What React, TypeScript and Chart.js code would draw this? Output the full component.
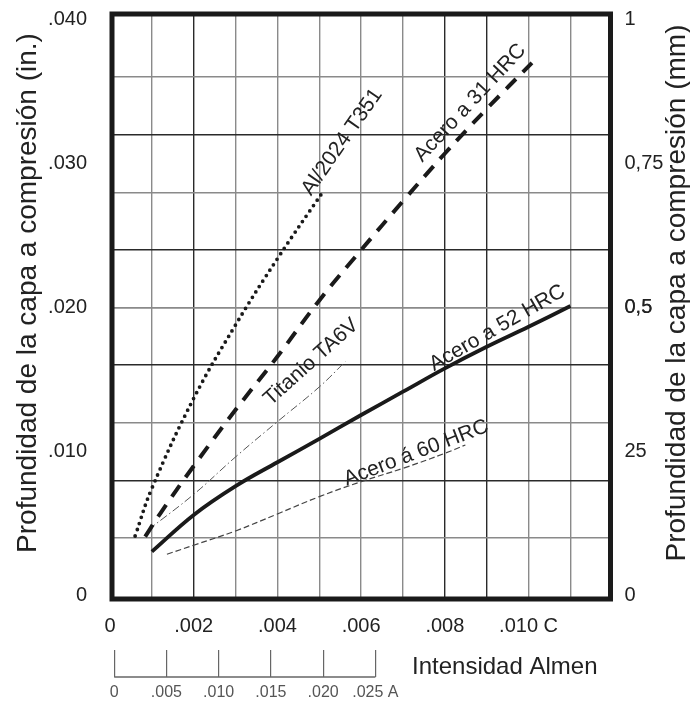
import { useEffect, useRef } from 'react';
import { Chart, registerables } from 'chart.js';

Chart.register(...registerables);

// ---- Data (Almen intensity C in inches, depth in inches) ----
const alX = [0.0006, 0.001, 0.002, 0.003, 0.004, 0.0051];
const alY = [0.00414, 0.00745, 0.0137, 0.0188, 0.0234, 0.0281];

const a31X = [0.00084, 0.0012, 0.002, 0.003, 0.004, 0.005, 0.006, 0.007, 0.008, 0.009, 0.01008];
const a31Y = [0.00409, 0.0057, 0.009, 0.0129, 0.0166, 0.0205, 0.024, 0.0274, 0.0307, 0.0338, 0.037];

const tiX = [0.00091, 0.002, 0.003, 0.004, 0.005, 0.00562];
const tiY = [0.00456, 0.00703, 0.00963, 0.01208, 0.01449, 0.01624];

const a52X = [0.001, 0.002, 0.003, 0.004, 0.005, 0.006, 0.007, 0.008, 0.009, 0.01, 0.011];
const a52Y = [0.00305, 0.0056, 0.0076, 0.00926, 0.01088, 0.01254, 0.01416, 0.01578, 0.01728, 0.01867, 0.02011];

const a60X = [0.00136, 0.002, 0.003, 0.004, 0.005, 0.006, 0.007, 0.008, 0.00849];
const a60Y = [0.00287, 0.0035, 0.00449, 0.00567, 0.00687, 0.00791, 0.00884, 0.00988, 0.01046];

// curve labels (text, anchor in data coords, rotation deg)
const curveLabels = ['Al/2024 T351', 'Acero a 31 HRC', 'Titanio TA6V', 'Acero a 52 HRC', 'Acero á 60 HRC'];
const curveLabelX = [0.005547, 0.008605, 0.004806, 0.00925, 0.007314];
const curveLabelY = [0.0315, 0.03421, 0.01622, 0.01858, 0.0099];
const curveLabelAngle = [-55, -47, -42, -30, -21];

// ---- Ticks ----
const cGridValues = [0, 0.001, 0.002, 0.003, 0.004, 0.005, 0.006, 0.007, 0.008, 0.009, 0.01, 0.011];
const cTickValues = [0, 0.002, 0.004, 0.006, 0.008, 0.01];
const cTickLabels = ['0', '.002', '.004', '.006', '.008', '.010 C'];

const aTickValues = [0, 0.005, 0.01, 0.015, 0.02, 0.025];
const aTickLabels = ['0', '.005', '.010', '.015', '.020', '.025 A'];

const inTickValues = [0, 0.01, 0.02, 0.03, 0.04];
const inTickLabels = ['0', '.010', '.020', '.030', '.040'];

const mmGridValues = [0.1, 0.2, 0.3, 0.4, 0.5, 0.6, 0.7, 0.8, 0.9];
const mmTickValues = [0, 0.25, 0.5, 0.75, 1];
const mmTickLabels = ['0', '25', '0,5', '0,75', '1'];

const yTitleLeft = 'Profundidad de la capa a compresión (in.)';
const yTitleRight = 'Profundidad de la capa a compresión (mm)';
const xTitle = 'Intensidad Almen';

const FONT = '"Liberation Sans", Arial, Helvetica, sans-serif';

const near = (a: number, b: number) => Math.abs(a - b) < 1e-9;
const labelFor = (vals: number[], labels: string[], v: number) => {
  const i = vals.findIndex((t) => near(t, v));
  return i >= 0 ? labels[i] : '';
};
const pts = (xs: number[], ys: number[]) => xs.map((x, i) => ({ x, y: ys[i] }));

const decorPlugin = {
  id: 'decor',
  beforeDatasetsDraw(chart: any) {
    const { ctx, chartArea: a } = chart;
    ctx.save();
    ctx.strokeStyle = '#1a1a1a';
    ctx.lineWidth = 5;
    ctx.strokeRect(a.left + 2, a.top, a.right - a.left - 2, a.bottom - a.top + 1);
    ctx.restore();
  },
  afterDatasetsDraw(chart: any) {
    const { ctx } = chart;
    const xs = chart.scales.x;
    const ys = chart.scales.y;
    ctx.save();
    ctx.font = `21px ${FONT}`;
    ctx.fillStyle = '#222';
    ctx.textAlign = 'center';
    ctx.textBaseline = 'middle';
    curveLabels.forEach((t, i) => {
      ctx.save();
      ctx.translate(xs.getPixelForValue(curveLabelX[i]), ys.getPixelForValue(curveLabelY[i]));
      ctx.rotate((curveLabelAngle[i] * Math.PI) / 180);
      ctx.fillText(t, 0, 0);
      ctx.restore();
    });
    ctx.restore();
  },
  afterDraw(chart: any) {
    const { ctx, chartArea: a } = chart;
    const sA = chart.scales.xA;
    ctx.save();
    // A-scale baseline
    const yb = sA.top + 27;
    ctx.strokeStyle = '#666';
    ctx.lineWidth = 1.3;
    ctx.beginPath();
    ctx.moveTo(sA.getPixelForValue(aTickValues[0]), yb);
    ctx.lineTo(sA.getPixelForValue(aTickValues[aTickValues.length - 1]), yb);
    ctx.stroke();
    // x title
    ctx.fillStyle = '#222';
    ctx.font = `24px ${FONT}`;
    ctx.textAlign = 'right';
    ctx.textBaseline = 'middle';
    ctx.fillText(xTitle, a.right - 13, sA.top + 17);
    // y titles (both read bottom-to-top)
    ctx.font = `28px ${FONT}`;
    ctx.textAlign = 'center';
    const midY = (a.top + a.bottom) / 2 - 13;
    ctx.save();
    ctx.translate(28, midY);
    ctx.rotate(-Math.PI / 2);
    ctx.fillText(yTitleLeft, 0, 0);
    ctx.restore();
    ctx.save();
    ctx.translate(677, midY);
    ctx.rotate(-Math.PI / 2);
    ctx.fillText(yTitleRight, 0, 0);
    ctx.restore();
    ctx.restore();
  },
};

export default function App() {
  const ref = useRef<HTMLCanvasElement>(null);

  useEffect(() => {
    if (!ref.current) return;
    const tickFont = { family: FONT, size: 20 };
    const common = { tension: 0.4, pointRadius: 0, xAxisID: 'x', yAxisID: 'y' };
    const chart = new Chart(ref.current, {
      type: 'line',
      data: {
        datasets: [
          {
            ...common,
            label: 'Al/2024 T351',
            data: pts(alX, alY),
            borderColor: '#1a1a1a',
            borderWidth: 3.8,
            borderDash: [0, 6.5],
            borderCapStyle: 'round',
          },
          {
            ...common,
            label: 'Acero a 31 HRC',
            data: pts(a31X, a31Y),
            borderColor: '#1a1a1a',
            borderWidth: 4,
            borderDash: [14, 10],
          },
          {
            ...common,
            label: 'Titanio TA6V',
            data: pts(tiX, tiY),
            borderColor: '#555',
            borderWidth: 1,
            borderDash: [8, 3, 1.5, 3],
          },
          {
            ...common,
            label: 'Acero a 52 HRC',
            data: pts(a52X, a52Y),
            borderColor: '#1a1a1a',
            borderWidth: 3.8,
          },
          {
            ...common,
            label: 'Acero á 60 HRC',
            data: pts(a60X, a60Y),
            borderColor: '#444',
            borderWidth: 1.2,
            borderDash: [6, 3],
          },
        ],
      },
      options: {
        animation: false,
        responsive: false,
        maintainAspectRatio: false,
        devicePixelRatio: 1,
        layout: { padding: { top: 14, left: 0, right: 0, bottom: 0 } },
        plugins: { legend: { display: false }, tooltip: { enabled: false } },
        scales: {
          x: {
            type: 'linear',
            position: 'bottom',
            weight: 0,
            min: 0,
            max: 0.011957,
            afterBuildTicks: (s: any) => {
              s.ticks = cGridValues.map((v) => ({ value: v }));
            },
            afterFit: (s: any) => {
              s.height = 52;
              s.paddingLeft = 0;
              s.paddingRight = 0;
            },
            border: { display: false },
            grid: {
              drawTicks: false,
              lineWidth: 1.4,
              color: (c: any) => {
                const idx = Math.round((c.tick?.value ?? 0) * 1000);
                if (idx === 0) return 'rgba(0,0,0,0)';
                return idx === 2 || idx === 8 || idx === 9 ? '#2a2a2a' : '#8a8a8a';
              },
            },
            ticks: {
              autoSkip: false,
              maxRotation: 0,
              minRotation: 0,
              padding: 16,
              color: '#222',
              font: tickFont,
              callback: (v: any) => labelFor(cTickValues, cTickLabels, Number(v)),
            },
          },
          xA: {
            type: 'linear',
            position: 'bottom',
            weight: 1,
            min: -0.0004,
            max: 0.0475,
            afterBuildTicks: (s: any) => {
              s.ticks = aTickValues.map((v) => ({ value: v }));
            },
            afterFit: (s: any) => {
              s.height = 53;
              s.paddingLeft = 0;
              s.paddingRight = 0;
            },
            border: { display: false },
            grid: {
              drawOnChartArea: false,
              drawTicks: true,
              tickLength: 27,
              color: '#666',
              lineWidth: 1.2,
            },
            ticks: {
              autoSkip: false,
              maxRotation: 0,
              minRotation: 0,
              padding: 6,
              color: '#555',
              font: { family: FONT, size: 16 },
              callback: (v: any) => labelFor(aTickValues, aTickLabels, Number(v)),
            },
          },
          y: {
            type: 'linear',
            position: 'left',
            min: -0.000167,
            max: 0.040389,
            afterBuildTicks: (s: any) => {
              s.ticks = inTickValues.map((v) => ({ value: v }));
            },
            afterFit: (s: any) => {
              s.width = 110;
              s.paddingTop = 0;
              s.paddingBottom = 0;
            },
            border: { display: false },
            grid: { display: false },
            ticks: {
              autoSkip: false,
              padding: 15,
              color: '#222',
              font: tickFont,
              callback: (v: any) => labelFor(inTickValues, inTickLabels, Number(v)),
            },
          },
          y2: {
            type: 'linear',
            position: 'right',
            min: -0.00417,
            max: 1.00972,
            afterBuildTicks: (s: any) => {
              const all = [...mmGridValues, ...mmTickValues].sort((a, b) => a - b);
              s.ticks = all.map((v) => ({ value: v }));
            },
            afterFit: (s: any) => {
              s.width = 79.5;
              s.paddingTop = 0;
              s.paddingBottom = 0;
            },
            border: { display: false },
            grid: {
              drawTicks: false,
              lineWidth: 1.4,
              color: (c: any) => {
                const v = c.tick?.value ?? 0;
                const idx = Math.round(v * 10);
                if (!near(v, idx / 10) || idx === 0 || idx === 10) return 'rgba(0,0,0,0)';
                return idx % 2 === 0 ? '#2a2a2a' : '#8a8a8a';
              },
            },
            ticks: {
              autoSkip: false,
              padding: 14,
              color: '#222',
              font: tickFont,
              callback: (v: any) => labelFor(mmTickValues, mmTickLabels, Number(v)),
            },
          },
        },
      },
      plugins: [decorPlugin],
    } as any);
    return () => chart.destroy();
  }, []);

  return (
    <div style={{ position: 'fixed', left: 0, top: 0, width: 690, height: 703, background: '#fff' }}>
      <canvas ref={ref} width={690} height={703} style={{ display: 'block', width: 690, height: 703 }} />
    </div>
  );
}
